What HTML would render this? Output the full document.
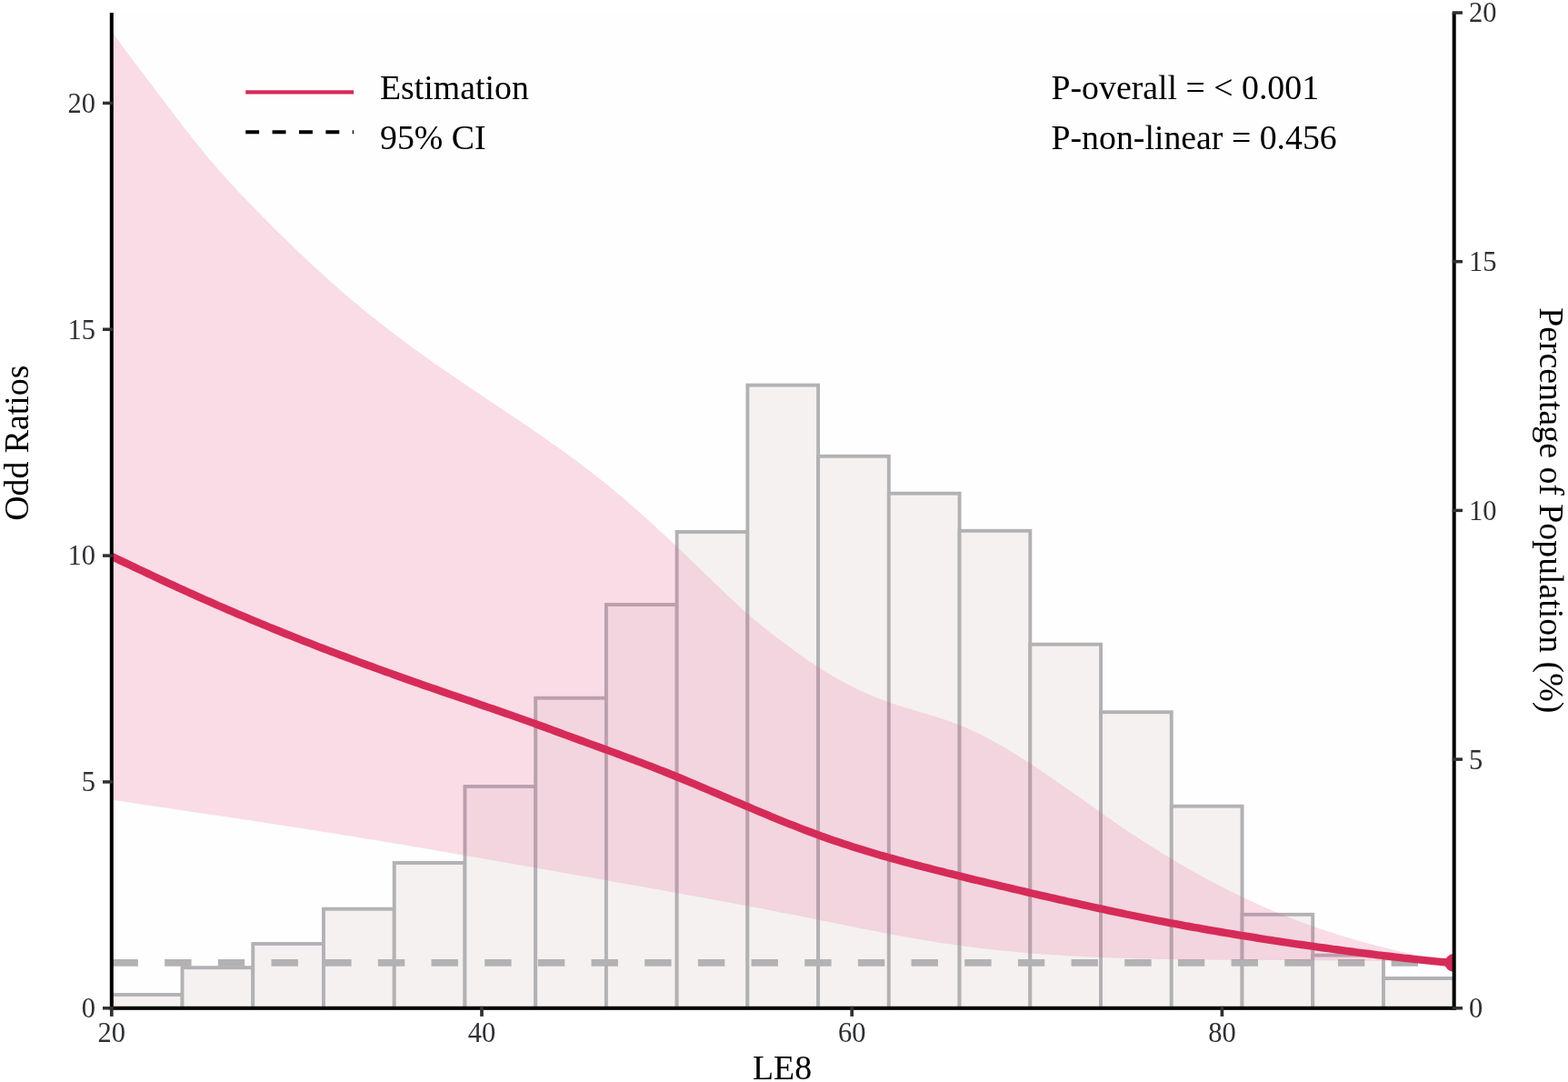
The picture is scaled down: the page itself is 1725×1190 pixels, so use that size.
<!DOCTYPE html>
<html><head><meta charset="utf-8"><title>LE8 RCS plot</title>
<style>html,body{margin:0;padding:0;background:#fff;} svg{display:block;}</style>
</head><body>
<svg width="1725" height="1190" viewBox="0 0 1725 1190">
<defs><clipPath id="pc"><rect x="122.8" y="14.0" width="1476.9" height="1094.8"/></clipPath>
<clipPath id="cbar"><path d="M120.85,1110.75 L120.85,1092.05 L198.58,1092.05 L198.58,1062.25 L276.31,1062.25 L276.31,1036.05 L354.04,1036.05 L354.04,997.75 L431.78,997.75 L431.78,947.05 L509.51,947.05 L509.51,863.05 L587.24,863.05 L587.24,765.75 L664.97,765.75 L664.97,663.05 L742.70,663.05 L742.70,583.05 L820.43,583.05 L820.43,421.65 L902.07,421.65 L902.07,499.85 L979.80,499.85 L979.80,540.75 L1057.53,540.75 L1057.53,581.85 L1135.26,581.85 L1135.26,706.75 L1212.99,706.75 L1212.99,781.25 L1290.72,781.25 L1290.72,884.75 L1368.46,884.75 L1368.46,1003.85 L1446.19,1003.85 L1446.19,1048.65 L1523.92,1048.65 L1523.92,1074.05 L1601.65,1074.05 L1601.65,1110.75 Z"/></clipPath>
<clipPath id="cbg"><path clip-rule="evenodd" d="M117.8,9.0 L1604.7,9.0 L1604.7,1113.8 L117.8,1113.8 Z M120.85,1110.75 L120.85,1092.05 L198.58,1092.05 L198.58,1062.25 L276.31,1062.25 L276.31,1036.05 L354.04,1036.05 L354.04,997.75 L431.78,997.75 L431.78,947.05 L509.51,947.05 L509.51,863.05 L587.24,863.05 L587.24,765.75 L664.97,765.75 L664.97,663.05 L742.70,663.05 L742.70,583.05 L820.43,583.05 L820.43,421.65 L902.07,421.65 L902.07,499.85 L979.80,499.85 L979.80,540.75 L1057.53,540.75 L1057.53,581.85 L1135.26,581.85 L1135.26,706.75 L1212.99,706.75 L1212.99,781.25 L1290.72,781.25 L1290.72,884.75 L1368.46,884.75 L1368.46,1003.85 L1446.19,1003.85 L1446.19,1048.65 L1523.92,1048.65 L1523.92,1074.05 L1601.65,1074.05 L1601.65,1110.75 Z"/></clipPath></defs>
<rect x="0" y="0" width="1725" height="1190" fill="#ffffff"/>
<rect x="122.8" y="14.0" width="1476.9" height="1094.8" fill="#fefefe"/>
<g clip-path="url(#pc)">
<g fill="#f5f1f0" stroke="#b2b2b5" stroke-width="3.9">
<rect x="122.80" y="1094.00" width="77.73" height="14.80"/>
<rect x="200.53" y="1064.20" width="77.73" height="44.60"/>
<rect x="278.26" y="1038.00" width="77.73" height="70.80"/>
<rect x="355.99" y="999.70" width="77.73" height="109.10"/>
<rect x="433.73" y="949.00" width="77.73" height="159.80"/>
<rect x="511.46" y="865.00" width="77.73" height="243.80"/>
<rect x="589.19" y="767.70" width="77.73" height="341.10"/>
<rect x="666.92" y="665.00" width="77.73" height="443.80"/>
<rect x="744.65" y="585.00" width="77.73" height="523.80"/>
<rect x="822.38" y="423.60" width="77.73" height="685.20"/>
<rect x="900.12" y="501.80" width="77.73" height="607.00"/>
<rect x="977.85" y="542.70" width="77.73" height="566.10"/>
<rect x="1055.58" y="583.80" width="77.73" height="525.00"/>
<rect x="1133.31" y="708.70" width="77.73" height="400.10"/>
<rect x="1211.04" y="783.20" width="77.73" height="325.60"/>
<rect x="1288.77" y="886.70" width="77.73" height="222.10"/>
<rect x="1366.51" y="1005.80" width="77.73" height="103.00"/>
<rect x="1444.24" y="1050.60" width="77.73" height="58.20"/>
<rect x="1521.97" y="1076.00" width="77.73" height="32.80"/>
</g>
<line x1="122.5" y1="1058.9" x2="1599.7" y2="1058.9" stroke="#b2b2b4" stroke-width="7.8" stroke-dasharray="29.4 29.27"/>
<path d="M122.8,34.6 L127.7,41.3 L132.7,48.0 L137.6,54.7 L142.6,61.3 L147.5,67.9 L152.4,74.5 L157.4,81.0 L162.3,87.5 L167.3,94.0 L172.2,100.5 L177.1,107.1 L182.1,113.6 L187.0,120.1 L192.0,126.6 L196.9,133.0 L201.8,139.5 L206.8,145.8 L211.7,152.1 L216.6,158.3 L221.6,164.4 L226.5,170.5 L231.5,176.4 L236.4,182.1 L241.3,187.8 L246.3,193.3 L251.2,198.8 L256.2,204.1 L261.1,209.4 L266.0,214.7 L271.0,219.8 L275.9,224.9 L280.9,230.0 L285.8,235.0 L290.7,240.1 L295.7,245.0 L300.6,250.0 L305.6,254.9 L310.5,259.8 L315.4,264.6 L320.4,269.4 L325.3,274.2 L330.3,278.9 L335.2,283.6 L340.1,288.2 L345.1,292.8 L350.0,297.3 L355.0,301.8 L359.9,306.3 L364.8,310.7 L369.8,315.1 L374.7,319.4 L379.7,323.6 L384.6,327.9 L389.5,332.0 L394.5,336.1 L399.4,340.2 L404.3,344.2 L409.3,348.2 L414.2,352.1 L419.2,356.0 L424.1,359.9 L429.0,363.7 L434.0,367.5 L438.9,371.2 L443.9,374.9 L448.8,378.6 L453.7,382.2 L458.7,385.8 L463.6,389.3 L468.6,392.9 L473.5,396.4 L478.4,399.9 L483.4,403.3 L488.3,406.8 L493.3,410.2 L498.2,413.5 L503.1,416.9 L508.1,420.3 L513.0,423.6 L518.0,426.9 L522.9,430.2 L527.8,433.6 L532.8,436.9 L537.7,440.2 L542.7,443.5 L547.6,446.8 L552.5,450.1 L557.5,453.4 L562.4,456.7 L567.4,460.0 L572.3,463.3 L577.2,466.7 L582.2,470.1 L587.1,473.4 L592.0,476.8 L597.0,480.3 L601.9,483.7 L606.9,487.2 L611.8,490.7 L616.7,494.2 L621.7,497.8 L626.6,501.4 L631.6,505.0 L636.5,508.7 L641.4,512.4 L646.4,516.2 L651.3,520.0 L656.3,523.9 L661.2,527.8 L666.1,531.7 L671.1,535.7 L676.0,539.8 L681.0,543.9 L685.9,548.1 L690.8,552.3 L695.8,556.6 L700.7,561.0 L705.7,565.4 L710.6,569.8 L715.5,574.3 L720.5,578.8 L725.4,583.4 L730.4,587.9 L735.3,592.6 L740.2,597.2 L745.2,601.9 L750.1,606.6 L755.1,611.3 L760.0,616.0 L764.9,620.8 L769.9,625.5 L774.8,630.3 L779.7,635.1 L784.7,639.8 L789.6,644.6 L794.6,649.3 L799.5,654.1 L804.4,658.7 L809.4,663.3 L814.3,667.9 L819.3,672.3 L824.2,676.6 L829.1,680.9 L834.1,685.0 L839.0,689.0 L844.0,692.9 L848.9,696.7 L853.8,700.5 L858.8,704.3 L863.7,708.0 L868.7,711.7 L873.6,715.3 L878.5,718.9 L883.5,722.4 L888.4,725.9 L893.4,729.3 L898.3,732.5 L903.2,735.7 L908.2,738.8 L913.1,741.8 L918.1,744.7 L923.0,747.5 L927.9,750.1 L932.9,752.8 L937.8,755.3 L942.8,757.7 L947.7,760.0 L952.6,762.2 L957.6,764.4 L962.5,766.5 L967.4,768.4 L972.4,770.3 L977.3,772.1 L982.3,773.9 L987.2,775.5 L992.1,777.1 L997.1,778.6 L1002.0,780.1 L1007.0,781.6 L1011.9,783.1 L1016.8,784.5 L1021.8,786.0 L1026.7,787.5 L1031.7,789.0 L1036.6,790.6 L1041.5,792.3 L1046.5,794.0 L1051.4,795.9 L1056.4,797.8 L1061.3,799.8 L1066.2,802.0 L1071.2,804.2 L1076.1,806.6 L1081.1,809.0 L1086.0,811.6 L1090.9,814.2 L1095.9,816.9 L1100.8,819.7 L1105.8,822.6 L1110.7,825.5 L1115.6,828.5 L1120.6,831.6 L1125.5,834.7 L1130.5,837.9 L1135.4,841.1 L1140.3,844.3 L1145.3,847.7 L1150.2,851.0 L1155.1,854.4 L1160.1,857.8 L1165.0,861.2 L1170.0,864.7 L1174.9,868.2 L1179.8,871.6 L1184.8,875.1 L1189.7,878.6 L1194.7,882.1 L1199.6,885.6 L1204.5,889.1 L1209.5,892.6 L1214.4,896.1 L1219.4,899.5 L1224.3,902.9 L1229.2,906.3 L1234.2,909.7 L1239.1,913.0 L1244.1,916.3 L1249.0,919.5 L1253.9,922.8 L1258.9,926.0 L1263.8,929.1 L1268.8,932.2 L1273.7,935.3 L1278.6,938.4 L1283.6,941.4 L1288.5,944.4 L1293.5,947.3 L1298.4,950.2 L1303.3,953.1 L1308.3,955.9 L1313.2,958.7 L1318.2,961.5 L1323.1,964.2 L1328.0,966.9 L1333.0,969.5 L1337.9,972.1 L1342.8,974.7 L1347.8,977.2 L1352.7,979.7 L1357.7,982.1 L1362.6,984.6 L1367.5,986.9 L1372.5,989.3 L1377.4,991.6 L1382.4,993.8 L1387.3,996.0 L1392.2,998.2 L1397.2,1000.3 L1402.1,1002.4 L1407.1,1004.5 L1412.0,1006.5 L1416.9,1008.5 L1421.9,1010.4 L1426.8,1012.3 L1431.8,1014.2 L1436.7,1016.0 L1441.6,1017.8 L1446.6,1019.5 L1451.5,1021.2 L1456.5,1022.9 L1461.4,1024.5 L1466.3,1026.1 L1471.3,1027.7 L1476.2,1029.2 L1481.2,1030.7 L1486.1,1032.1 L1491.0,1033.6 L1496.0,1035.0 L1500.9,1036.4 L1505.9,1037.7 L1510.8,1039.0 L1515.7,1040.3 L1520.7,1041.6 L1525.6,1042.8 L1530.5,1044.0 L1535.5,1045.2 L1540.4,1046.4 L1545.4,1047.5 L1550.3,1048.6 L1555.2,1049.7 L1560.2,1050.8 L1565.1,1051.9 L1570.1,1052.9 L1575.0,1053.9 L1579.9,1054.9 L1584.9,1055.9 L1589.8,1056.9 L1594.8,1057.9 L1599.7,1058.8 L1599.7,1059.5 L1594.8,1059.2 L1589.8,1059.0 L1584.9,1058.8 L1579.9,1058.7 L1575.0,1058.5 L1570.1,1058.3 L1565.1,1058.2 L1560.2,1058.0 L1555.2,1057.9 L1550.3,1057.7 L1545.4,1057.6 L1540.4,1057.5 L1535.5,1057.4 L1530.5,1057.3 L1525.6,1057.2 L1520.7,1057.1 L1515.7,1057.0 L1510.8,1056.9 L1505.9,1056.8 L1500.9,1056.8 L1496.0,1056.7 L1491.0,1056.6 L1486.1,1056.6 L1481.2,1056.5 L1476.2,1056.5 L1471.3,1056.4 L1466.3,1056.4 L1461.4,1056.3 L1456.5,1056.3 L1451.5,1056.3 L1446.6,1056.3 L1441.6,1056.2 L1436.7,1056.2 L1431.8,1056.2 L1426.8,1056.1 L1421.9,1056.1 L1416.9,1056.1 L1412.0,1056.1 L1407.1,1056.1 L1402.1,1056.0 L1397.2,1056.0 L1392.2,1056.0 L1387.3,1056.0 L1382.4,1056.0 L1377.4,1056.0 L1372.5,1055.9 L1367.5,1055.9 L1362.6,1055.9 L1357.7,1055.9 L1352.7,1055.8 L1347.8,1055.8 L1342.8,1055.8 L1337.9,1055.7 L1333.0,1055.7 L1328.0,1055.6 L1323.1,1055.6 L1318.2,1055.5 L1313.2,1055.5 L1308.3,1055.4 L1303.3,1055.4 L1298.4,1055.3 L1293.5,1055.2 L1288.5,1055.1 L1283.6,1055.0 L1278.6,1055.0 L1273.7,1054.9 L1268.8,1054.7 L1263.8,1054.6 L1258.9,1054.5 L1253.9,1054.4 L1249.0,1054.3 L1244.1,1054.1 L1239.1,1054.0 L1234.2,1053.8 L1229.2,1053.7 L1224.3,1053.5 L1219.4,1053.3 L1214.4,1053.1 L1209.5,1052.9 L1204.5,1052.7 L1199.6,1052.5 L1194.7,1052.2 L1189.7,1052.0 L1184.8,1051.7 L1179.8,1051.5 L1174.9,1051.2 L1170.0,1050.9 L1165.0,1050.6 L1160.1,1050.3 L1155.1,1050.0 L1150.2,1049.6 L1145.3,1049.2 L1140.3,1048.9 L1135.4,1048.5 L1130.5,1048.1 L1125.5,1047.7 L1120.6,1047.2 L1115.6,1046.8 L1110.7,1046.3 L1105.8,1045.8 L1100.8,1045.3 L1095.9,1044.8 L1090.9,1044.3 L1086.0,1043.7 L1081.1,1043.2 L1076.1,1042.6 L1071.2,1042.0 L1066.2,1041.3 L1061.3,1040.7 L1056.4,1040.0 L1051.4,1039.3 L1046.5,1038.6 L1041.5,1037.9 L1036.6,1037.2 L1031.7,1036.4 L1026.7,1035.6 L1021.8,1034.8 L1016.8,1034.0 L1011.9,1033.2 L1007.0,1032.3 L1002.0,1031.4 L997.1,1030.6 L992.1,1029.7 L987.2,1028.8 L982.3,1027.9 L977.3,1026.9 L972.4,1026.0 L967.4,1025.1 L962.5,1024.1 L957.6,1023.2 L952.6,1022.2 L947.7,1021.2 L942.8,1020.2 L937.8,1019.3 L932.9,1018.3 L927.9,1017.3 L923.0,1016.3 L918.1,1015.3 L913.1,1014.3 L908.2,1013.3 L903.2,1012.3 L898.3,1011.3 L893.4,1010.3 L888.4,1009.3 L883.5,1008.3 L878.5,1007.3 L873.6,1006.3 L868.7,1005.3 L863.7,1004.4 L858.8,1003.4 L853.8,1002.4 L848.9,1001.5 L844.0,1000.5 L839.0,999.6 L834.1,998.6 L829.1,997.7 L824.2,996.7 L819.3,995.8 L814.3,994.9 L809.4,993.9 L804.4,993.0 L799.5,992.1 L794.6,991.2 L789.6,990.3 L784.7,989.4 L779.7,988.5 L774.8,987.6 L769.9,986.7 L764.9,985.8 L760.0,984.9 L755.1,984.0 L750.1,983.1 L745.2,982.2 L740.2,981.3 L735.3,980.4 L730.4,979.5 L725.4,978.6 L720.5,977.8 L715.5,976.9 L710.6,976.0 L705.7,975.1 L700.7,974.2 L695.8,973.4 L690.8,972.5 L685.9,971.6 L681.0,970.7 L676.0,969.9 L671.1,969.0 L666.1,968.1 L661.2,967.2 L656.3,966.3 L651.3,965.5 L646.4,964.6 L641.4,963.7 L636.5,962.8 L631.6,962.0 L626.6,961.1 L621.7,960.2 L616.7,959.3 L611.8,958.4 L606.9,957.6 L601.9,956.7 L597.0,955.8 L592.0,954.9 L587.1,954.1 L582.2,953.2 L577.2,952.3 L572.3,951.5 L567.4,950.6 L562.4,949.7 L557.5,948.8 L552.5,948.0 L547.6,947.1 L542.7,946.2 L537.7,945.4 L532.8,944.5 L527.8,943.6 L522.9,942.8 L518.0,941.9 L513.0,941.1 L508.1,940.2 L503.1,939.4 L498.2,938.5 L493.3,937.7 L488.3,936.8 L483.4,936.0 L478.4,935.1 L473.5,934.3 L468.6,933.4 L463.6,932.6 L458.7,931.8 L453.7,930.9 L448.8,930.1 L443.9,929.3 L438.9,928.4 L434.0,927.6 L429.0,926.8 L424.1,926.0 L419.2,925.1 L414.2,924.3 L409.3,923.5 L404.3,922.7 L399.4,921.9 L394.5,921.1 L389.5,920.3 L384.6,919.5 L379.7,918.7 L374.7,917.9 L369.8,917.1 L364.8,916.3 L359.9,915.5 L355.0,914.7 L350.0,913.9 L345.1,913.1 L340.1,912.4 L335.2,911.6 L330.3,910.8 L325.3,910.0 L320.4,909.3 L315.4,908.5 L310.5,907.7 L305.6,907.0 L300.6,906.2 L295.7,905.5 L290.7,904.7 L285.8,904.0 L280.9,903.2 L275.9,902.5 L271.0,901.7 L266.0,901.0 L261.1,900.2 L256.2,899.5 L251.2,898.8 L246.3,898.0 L241.3,897.3 L236.4,896.6 L231.5,895.9 L226.5,895.1 L221.6,894.4 L216.6,893.7 L211.7,893.0 L206.8,892.2 L201.8,891.5 L196.9,890.8 L192.0,890.0 L187.0,889.3 L182.1,888.6 L177.1,887.8 L172.2,887.1 L167.3,886.4 L162.3,885.6 L157.4,884.9 L152.4,884.1 L147.5,883.4 L142.6,882.6 L137.6,881.8 L132.7,881.1 L127.7,880.3 L122.8,879.5 Z" fill="rgb(224,42,99)" fill-opacity="0.16" stroke="none" clip-path="url(#cbg)"/>
<path d="M122.8,34.6 L127.7,41.3 L132.7,48.0 L137.6,54.7 L142.6,61.3 L147.5,67.9 L152.4,74.5 L157.4,81.0 L162.3,87.5 L167.3,94.0 L172.2,100.5 L177.1,107.1 L182.1,113.6 L187.0,120.1 L192.0,126.6 L196.9,133.0 L201.8,139.5 L206.8,145.8 L211.7,152.1 L216.6,158.3 L221.6,164.4 L226.5,170.5 L231.5,176.4 L236.4,182.1 L241.3,187.8 L246.3,193.3 L251.2,198.8 L256.2,204.1 L261.1,209.4 L266.0,214.7 L271.0,219.8 L275.9,224.9 L280.9,230.0 L285.8,235.0 L290.7,240.1 L295.7,245.0 L300.6,250.0 L305.6,254.9 L310.5,259.8 L315.4,264.6 L320.4,269.4 L325.3,274.2 L330.3,278.9 L335.2,283.6 L340.1,288.2 L345.1,292.8 L350.0,297.3 L355.0,301.8 L359.9,306.3 L364.8,310.7 L369.8,315.1 L374.7,319.4 L379.7,323.6 L384.6,327.9 L389.5,332.0 L394.5,336.1 L399.4,340.2 L404.3,344.2 L409.3,348.2 L414.2,352.1 L419.2,356.0 L424.1,359.9 L429.0,363.7 L434.0,367.5 L438.9,371.2 L443.9,374.9 L448.8,378.6 L453.7,382.2 L458.7,385.8 L463.6,389.3 L468.6,392.9 L473.5,396.4 L478.4,399.9 L483.4,403.3 L488.3,406.8 L493.3,410.2 L498.2,413.5 L503.1,416.9 L508.1,420.3 L513.0,423.6 L518.0,426.9 L522.9,430.2 L527.8,433.6 L532.8,436.9 L537.7,440.2 L542.7,443.5 L547.6,446.8 L552.5,450.1 L557.5,453.4 L562.4,456.7 L567.4,460.0 L572.3,463.3 L577.2,466.7 L582.2,470.1 L587.1,473.4 L592.0,476.8 L597.0,480.3 L601.9,483.7 L606.9,487.2 L611.8,490.7 L616.7,494.2 L621.7,497.8 L626.6,501.4 L631.6,505.0 L636.5,508.7 L641.4,512.4 L646.4,516.2 L651.3,520.0 L656.3,523.9 L661.2,527.8 L666.1,531.7 L671.1,535.7 L676.0,539.8 L681.0,543.9 L685.9,548.1 L690.8,552.3 L695.8,556.6 L700.7,561.0 L705.7,565.4 L710.6,569.8 L715.5,574.3 L720.5,578.8 L725.4,583.4 L730.4,587.9 L735.3,592.6 L740.2,597.2 L745.2,601.9 L750.1,606.6 L755.1,611.3 L760.0,616.0 L764.9,620.8 L769.9,625.5 L774.8,630.3 L779.7,635.1 L784.7,639.8 L789.6,644.6 L794.6,649.3 L799.5,654.1 L804.4,658.7 L809.4,663.3 L814.3,667.9 L819.3,672.3 L824.2,676.6 L829.1,680.9 L834.1,685.0 L839.0,689.0 L844.0,692.9 L848.9,696.7 L853.8,700.5 L858.8,704.3 L863.7,708.0 L868.7,711.7 L873.6,715.3 L878.5,718.9 L883.5,722.4 L888.4,725.9 L893.4,729.3 L898.3,732.5 L903.2,735.7 L908.2,738.8 L913.1,741.8 L918.1,744.7 L923.0,747.5 L927.9,750.1 L932.9,752.8 L937.8,755.3 L942.8,757.7 L947.7,760.0 L952.6,762.2 L957.6,764.4 L962.5,766.5 L967.4,768.4 L972.4,770.3 L977.3,772.1 L982.3,773.9 L987.2,775.5 L992.1,777.1 L997.1,778.6 L1002.0,780.1 L1007.0,781.6 L1011.9,783.1 L1016.8,784.5 L1021.8,786.0 L1026.7,787.5 L1031.7,789.0 L1036.6,790.6 L1041.5,792.3 L1046.5,794.0 L1051.4,795.9 L1056.4,797.8 L1061.3,799.8 L1066.2,802.0 L1071.2,804.2 L1076.1,806.6 L1081.1,809.0 L1086.0,811.6 L1090.9,814.2 L1095.9,816.9 L1100.8,819.7 L1105.8,822.6 L1110.7,825.5 L1115.6,828.5 L1120.6,831.6 L1125.5,834.7 L1130.5,837.9 L1135.4,841.1 L1140.3,844.3 L1145.3,847.7 L1150.2,851.0 L1155.1,854.4 L1160.1,857.8 L1165.0,861.2 L1170.0,864.7 L1174.9,868.2 L1179.8,871.6 L1184.8,875.1 L1189.7,878.6 L1194.7,882.1 L1199.6,885.6 L1204.5,889.1 L1209.5,892.6 L1214.4,896.1 L1219.4,899.5 L1224.3,902.9 L1229.2,906.3 L1234.2,909.7 L1239.1,913.0 L1244.1,916.3 L1249.0,919.5 L1253.9,922.8 L1258.9,926.0 L1263.8,929.1 L1268.8,932.2 L1273.7,935.3 L1278.6,938.4 L1283.6,941.4 L1288.5,944.4 L1293.5,947.3 L1298.4,950.2 L1303.3,953.1 L1308.3,955.9 L1313.2,958.7 L1318.2,961.5 L1323.1,964.2 L1328.0,966.9 L1333.0,969.5 L1337.9,972.1 L1342.8,974.7 L1347.8,977.2 L1352.7,979.7 L1357.7,982.1 L1362.6,984.6 L1367.5,986.9 L1372.5,989.3 L1377.4,991.6 L1382.4,993.8 L1387.3,996.0 L1392.2,998.2 L1397.2,1000.3 L1402.1,1002.4 L1407.1,1004.5 L1412.0,1006.5 L1416.9,1008.5 L1421.9,1010.4 L1426.8,1012.3 L1431.8,1014.2 L1436.7,1016.0 L1441.6,1017.8 L1446.6,1019.5 L1451.5,1021.2 L1456.5,1022.9 L1461.4,1024.5 L1466.3,1026.1 L1471.3,1027.7 L1476.2,1029.2 L1481.2,1030.7 L1486.1,1032.1 L1491.0,1033.6 L1496.0,1035.0 L1500.9,1036.4 L1505.9,1037.7 L1510.8,1039.0 L1515.7,1040.3 L1520.7,1041.6 L1525.6,1042.8 L1530.5,1044.0 L1535.5,1045.2 L1540.4,1046.4 L1545.4,1047.5 L1550.3,1048.6 L1555.2,1049.7 L1560.2,1050.8 L1565.1,1051.9 L1570.1,1052.9 L1575.0,1053.9 L1579.9,1054.9 L1584.9,1055.9 L1589.8,1056.9 L1594.8,1057.9 L1599.7,1058.8 L1599.7,1059.5 L1594.8,1059.2 L1589.8,1059.0 L1584.9,1058.8 L1579.9,1058.7 L1575.0,1058.5 L1570.1,1058.3 L1565.1,1058.2 L1560.2,1058.0 L1555.2,1057.9 L1550.3,1057.7 L1545.4,1057.6 L1540.4,1057.5 L1535.5,1057.4 L1530.5,1057.3 L1525.6,1057.2 L1520.7,1057.1 L1515.7,1057.0 L1510.8,1056.9 L1505.9,1056.8 L1500.9,1056.8 L1496.0,1056.7 L1491.0,1056.6 L1486.1,1056.6 L1481.2,1056.5 L1476.2,1056.5 L1471.3,1056.4 L1466.3,1056.4 L1461.4,1056.3 L1456.5,1056.3 L1451.5,1056.3 L1446.6,1056.3 L1441.6,1056.2 L1436.7,1056.2 L1431.8,1056.2 L1426.8,1056.1 L1421.9,1056.1 L1416.9,1056.1 L1412.0,1056.1 L1407.1,1056.1 L1402.1,1056.0 L1397.2,1056.0 L1392.2,1056.0 L1387.3,1056.0 L1382.4,1056.0 L1377.4,1056.0 L1372.5,1055.9 L1367.5,1055.9 L1362.6,1055.9 L1357.7,1055.9 L1352.7,1055.8 L1347.8,1055.8 L1342.8,1055.8 L1337.9,1055.7 L1333.0,1055.7 L1328.0,1055.6 L1323.1,1055.6 L1318.2,1055.5 L1313.2,1055.5 L1308.3,1055.4 L1303.3,1055.4 L1298.4,1055.3 L1293.5,1055.2 L1288.5,1055.1 L1283.6,1055.0 L1278.6,1055.0 L1273.7,1054.9 L1268.8,1054.7 L1263.8,1054.6 L1258.9,1054.5 L1253.9,1054.4 L1249.0,1054.3 L1244.1,1054.1 L1239.1,1054.0 L1234.2,1053.8 L1229.2,1053.7 L1224.3,1053.5 L1219.4,1053.3 L1214.4,1053.1 L1209.5,1052.9 L1204.5,1052.7 L1199.6,1052.5 L1194.7,1052.2 L1189.7,1052.0 L1184.8,1051.7 L1179.8,1051.5 L1174.9,1051.2 L1170.0,1050.9 L1165.0,1050.6 L1160.1,1050.3 L1155.1,1050.0 L1150.2,1049.6 L1145.3,1049.2 L1140.3,1048.9 L1135.4,1048.5 L1130.5,1048.1 L1125.5,1047.7 L1120.6,1047.2 L1115.6,1046.8 L1110.7,1046.3 L1105.8,1045.8 L1100.8,1045.3 L1095.9,1044.8 L1090.9,1044.3 L1086.0,1043.7 L1081.1,1043.2 L1076.1,1042.6 L1071.2,1042.0 L1066.2,1041.3 L1061.3,1040.7 L1056.4,1040.0 L1051.4,1039.3 L1046.5,1038.6 L1041.5,1037.9 L1036.6,1037.2 L1031.7,1036.4 L1026.7,1035.6 L1021.8,1034.8 L1016.8,1034.0 L1011.9,1033.2 L1007.0,1032.3 L1002.0,1031.4 L997.1,1030.6 L992.1,1029.7 L987.2,1028.8 L982.3,1027.9 L977.3,1026.9 L972.4,1026.0 L967.4,1025.1 L962.5,1024.1 L957.6,1023.2 L952.6,1022.2 L947.7,1021.2 L942.8,1020.2 L937.8,1019.3 L932.9,1018.3 L927.9,1017.3 L923.0,1016.3 L918.1,1015.3 L913.1,1014.3 L908.2,1013.3 L903.2,1012.3 L898.3,1011.3 L893.4,1010.3 L888.4,1009.3 L883.5,1008.3 L878.5,1007.3 L873.6,1006.3 L868.7,1005.3 L863.7,1004.4 L858.8,1003.4 L853.8,1002.4 L848.9,1001.5 L844.0,1000.5 L839.0,999.6 L834.1,998.6 L829.1,997.7 L824.2,996.7 L819.3,995.8 L814.3,994.9 L809.4,993.9 L804.4,993.0 L799.5,992.1 L794.6,991.2 L789.6,990.3 L784.7,989.4 L779.7,988.5 L774.8,987.6 L769.9,986.7 L764.9,985.8 L760.0,984.9 L755.1,984.0 L750.1,983.1 L745.2,982.2 L740.2,981.3 L735.3,980.4 L730.4,979.5 L725.4,978.6 L720.5,977.8 L715.5,976.9 L710.6,976.0 L705.7,975.1 L700.7,974.2 L695.8,973.4 L690.8,972.5 L685.9,971.6 L681.0,970.7 L676.0,969.9 L671.1,969.0 L666.1,968.1 L661.2,967.2 L656.3,966.3 L651.3,965.5 L646.4,964.6 L641.4,963.7 L636.5,962.8 L631.6,962.0 L626.6,961.1 L621.7,960.2 L616.7,959.3 L611.8,958.4 L606.9,957.6 L601.9,956.7 L597.0,955.8 L592.0,954.9 L587.1,954.1 L582.2,953.2 L577.2,952.3 L572.3,951.5 L567.4,950.6 L562.4,949.7 L557.5,948.8 L552.5,948.0 L547.6,947.1 L542.7,946.2 L537.7,945.4 L532.8,944.5 L527.8,943.6 L522.9,942.8 L518.0,941.9 L513.0,941.1 L508.1,940.2 L503.1,939.4 L498.2,938.5 L493.3,937.7 L488.3,936.8 L483.4,936.0 L478.4,935.1 L473.5,934.3 L468.6,933.4 L463.6,932.6 L458.7,931.8 L453.7,930.9 L448.8,930.1 L443.9,929.3 L438.9,928.4 L434.0,927.6 L429.0,926.8 L424.1,926.0 L419.2,925.1 L414.2,924.3 L409.3,923.5 L404.3,922.7 L399.4,921.9 L394.5,921.1 L389.5,920.3 L384.6,919.5 L379.7,918.7 L374.7,917.9 L369.8,917.1 L364.8,916.3 L359.9,915.5 L355.0,914.7 L350.0,913.9 L345.1,913.1 L340.1,912.4 L335.2,911.6 L330.3,910.8 L325.3,910.0 L320.4,909.3 L315.4,908.5 L310.5,907.7 L305.6,907.0 L300.6,906.2 L295.7,905.5 L290.7,904.7 L285.8,904.0 L280.9,903.2 L275.9,902.5 L271.0,901.7 L266.0,901.0 L261.1,900.2 L256.2,899.5 L251.2,898.8 L246.3,898.0 L241.3,897.3 L236.4,896.6 L231.5,895.9 L226.5,895.1 L221.6,894.4 L216.6,893.7 L211.7,893.0 L206.8,892.2 L201.8,891.5 L196.9,890.8 L192.0,890.0 L187.0,889.3 L182.1,888.6 L177.1,887.8 L172.2,887.1 L167.3,886.4 L162.3,885.6 L157.4,884.9 L152.4,884.1 L147.5,883.4 L142.6,882.6 L137.6,881.8 L132.7,881.1 L127.7,880.3 L122.8,879.5 Z" fill="rgb(232,71,133)" fill-opacity="0.16" stroke="none" clip-path="url(#cbar)"/>
<path d="M122.8,611.8 L127.7,614.2 L132.7,616.6 L137.6,618.9 L142.6,621.3 L147.5,623.6 L152.4,626.0 L157.4,628.3 L162.3,630.6 L167.3,633.0 L172.2,635.3 L177.1,637.6 L182.1,639.9 L187.0,642.2 L192.0,644.4 L196.9,646.7 L201.8,648.9 L206.8,651.2 L211.7,653.4 L216.6,655.6 L221.6,657.8 L226.5,660.0 L231.5,662.2 L236.4,664.4 L241.3,666.5 L246.3,668.7 L251.2,670.8 L256.2,672.9 L261.1,675.1 L266.0,677.1 L271.0,679.2 L275.9,681.3 L280.9,683.4 L285.8,685.4 L290.7,687.4 L295.7,689.5 L300.6,691.5 L305.6,693.5 L310.5,695.5 L315.4,697.5 L320.4,699.4 L325.3,701.4 L330.3,703.4 L335.2,705.3 L340.1,707.2 L345.1,709.2 L350.0,711.1 L355.0,713.0 L359.9,714.9 L364.8,716.7 L369.8,718.6 L374.7,720.5 L379.7,722.3 L384.6,724.2 L389.5,726.0 L394.5,727.9 L399.4,729.7 L404.3,731.5 L409.3,733.3 L414.2,735.1 L419.2,736.9 L424.1,738.7 L429.0,740.4 L434.0,742.2 L438.9,744.0 L443.9,745.7 L448.8,747.5 L453.7,749.2 L458.7,750.9 L463.6,752.7 L468.6,754.4 L473.5,756.1 L478.4,757.8 L483.4,759.5 L488.3,761.2 L493.3,762.9 L498.2,764.6 L503.1,766.3 L508.1,767.9 L513.0,769.6 L518.0,771.3 L522.9,773.0 L527.8,774.7 L532.8,776.4 L537.7,778.1 L542.7,779.8 L547.6,781.5 L552.5,783.2 L557.5,784.9 L562.4,786.6 L567.4,788.4 L572.3,790.1 L577.2,791.9 L582.2,793.6 L587.1,795.4 L592.0,797.2 L597.0,799.0 L601.9,800.8 L606.9,802.6 L611.8,804.5 L616.7,806.3 L621.7,808.1 L626.6,809.9 L631.6,811.7 L636.5,813.5 L641.4,815.3 L646.4,817.1 L651.3,818.9 L656.3,820.7 L661.2,822.5 L666.1,824.3 L671.1,826.1 L676.0,827.9 L681.0,829.7 L685.9,831.6 L690.8,833.4 L695.8,835.2 L700.7,837.1 L705.7,838.9 L710.6,840.8 L715.5,842.7 L720.5,844.6 L725.4,846.6 L730.4,848.5 L735.3,850.5 L740.2,852.5 L745.2,854.5 L750.1,856.5 L755.1,858.6 L760.0,860.6 L764.9,862.7 L769.9,864.8 L774.8,866.9 L779.7,869.0 L784.7,871.1 L789.6,873.2 L794.6,875.3 L799.5,877.4 L804.4,879.5 L809.4,881.6 L814.3,883.7 L819.3,885.8 L824.2,887.9 L829.1,890.0 L834.1,892.1 L839.0,894.2 L844.0,896.2 L848.9,898.3 L853.8,900.3 L858.8,902.3 L863.7,904.3 L868.7,906.3 L873.6,908.2 L878.5,910.2 L883.5,912.1 L888.4,914.0 L893.4,915.8 L898.3,917.7 L903.2,919.5 L908.2,921.2 L913.1,923.0 L918.1,924.7 L923.0,926.3 L927.9,928.0 L932.9,929.6 L937.8,931.2 L942.8,932.7 L947.7,934.3 L952.6,935.8 L957.6,937.3 L962.5,938.7 L967.4,940.2 L972.4,941.6 L977.3,943.0 L982.3,944.4 L987.2,945.8 L992.1,947.1 L997.1,948.5 L1002.0,949.8 L1007.0,951.1 L1011.9,952.4 L1016.8,953.7 L1021.8,954.9 L1026.7,956.2 L1031.7,957.5 L1036.6,958.7 L1041.5,960.0 L1046.5,961.2 L1051.4,962.4 L1056.4,963.6 L1061.3,964.8 L1066.2,966.1 L1071.2,967.3 L1076.1,968.5 L1081.1,969.7 L1086.0,970.8 L1090.9,972.0 L1095.9,973.2 L1100.8,974.4 L1105.8,975.5 L1110.7,976.7 L1115.6,977.9 L1120.6,979.0 L1125.5,980.2 L1130.5,981.3 L1135.4,982.5 L1140.3,983.6 L1145.3,984.8 L1150.2,985.9 L1155.1,987.0 L1160.1,988.2 L1165.0,989.3 L1170.0,990.4 L1174.9,991.5 L1179.8,992.6 L1184.8,993.7 L1189.7,994.8 L1194.7,995.9 L1199.6,997.0 L1204.5,998.1 L1209.5,999.2 L1214.4,1000.2 L1219.4,1001.3 L1224.3,1002.4 L1229.2,1003.4 L1234.2,1004.4 L1239.1,1005.5 L1244.1,1006.5 L1249.0,1007.5 L1253.9,1008.5 L1258.9,1009.5 L1263.8,1010.5 L1268.8,1011.5 L1273.7,1012.5 L1278.6,1013.4 L1283.6,1014.4 L1288.5,1015.3 L1293.5,1016.2 L1298.4,1017.1 L1303.3,1018.1 L1308.3,1019.0 L1313.2,1019.9 L1318.2,1020.7 L1323.1,1021.6 L1328.0,1022.5 L1333.0,1023.3 L1337.9,1024.2 L1342.8,1025.0 L1347.8,1025.9 L1352.7,1026.7 L1357.7,1027.5 L1362.6,1028.3 L1367.5,1029.1 L1372.5,1029.9 L1377.4,1030.7 L1382.4,1031.5 L1387.3,1032.3 L1392.2,1033.1 L1397.2,1033.8 L1402.1,1034.6 L1407.1,1035.3 L1412.0,1036.1 L1416.9,1036.8 L1421.9,1037.6 L1426.8,1038.3 L1431.8,1039.0 L1436.7,1039.7 L1441.6,1040.4 L1446.6,1041.1 L1451.5,1041.8 L1456.5,1042.5 L1461.4,1043.2 L1466.3,1043.9 L1471.3,1044.5 L1476.2,1045.2 L1481.2,1045.9 L1486.1,1046.5 L1491.0,1047.2 L1496.0,1047.8 L1500.9,1048.4 L1505.9,1049.0 L1510.8,1049.7 L1515.7,1050.3 L1520.7,1050.9 L1525.6,1051.5 L1530.5,1052.0 L1535.5,1052.6 L1540.4,1053.2 L1545.4,1053.8 L1550.3,1054.3 L1555.2,1054.9 L1560.2,1055.4 L1565.1,1055.9 L1570.1,1056.4 L1575.0,1056.9 L1579.9,1057.4 L1584.9,1057.9 L1589.8,1058.3 L1594.8,1058.7 L1599.7,1059.2" fill="none" stroke="#d62b58" stroke-width="8.4"/>
<circle cx="1599.5" cy="1059" r="10" fill="#d62b58"/>
</g>
<g fill="#000">
<rect x="120.8" y="14" width="4" height="1096.8"/>
<rect x="1597.7" y="14" width="4" height="1096.8"/>
<rect x="120.8" y="1106.8" width="1480.9" height="4"/>
</g>
<g fill="#2e3034">
<rect x="113" y="1107.05" width="11.8" height="3.5"/>
<rect x="113" y="858.20" width="11.8" height="3.5"/>
<rect x="113" y="609.35" width="11.8" height="3.5"/>
<rect x="113" y="360.50" width="11.8" height="3.5"/>
<rect x="113" y="111.65" width="11.8" height="3.5"/>
<rect x="1597.7" y="1107.05" width="11.3" height="3.5"/>
<rect x="1597.7" y="833.35" width="11.3" height="3.5"/>
<rect x="1597.7" y="559.65" width="11.3" height="3.5"/>
<rect x="1597.7" y="285.95" width="11.3" height="3.5"/>
<rect x="1597.7" y="12.25" width="11.3" height="3.5"/>
<rect x="120.95" y="1106.8" width="3.7" height="11.1"/>
<rect x="528.15" y="1106.8" width="3.7" height="11.1"/>
<rect x="935.35" y="1106.8" width="3.7" height="11.1"/>
<rect x="1342.55" y="1106.8" width="3.7" height="11.1"/>
</g>
<g font-family="Liberation Serif, Times New Roman, serif" font-size="30.5" fill="#2e3034">
<text x="105" y="1108.80" text-anchor="end" dominant-baseline="central" dy="0.3">0</text>
<text x="105" y="859.95" text-anchor="end" dominant-baseline="central" dy="0.3">5</text>
<text x="105" y="611.10" text-anchor="end" dominant-baseline="central" dy="0.3">10</text>
<text x="105" y="362.25" text-anchor="end" dominant-baseline="central" dy="0.3">15</text>
<text x="105" y="113.40" text-anchor="end" dominant-baseline="central" dy="0.3">20</text>
<text x="1616" y="1108.80" text-anchor="start" dominant-baseline="central" dy="0.4">0</text>
<text x="1616" y="835.10" text-anchor="start" dominant-baseline="central" dy="0.4">5</text>
<text x="1616" y="561.40" text-anchor="start" dominant-baseline="central" dy="0.4">10</text>
<text x="1616" y="287.70" text-anchor="start" dominant-baseline="central" dy="0.4">15</text>
<text x="1616" y="14.00" text-anchor="start" dominant-baseline="central" dy="0.4">20</text>
<text x="122.80" y="1146.3" text-anchor="middle">20</text>
<text x="530.00" y="1146.3" text-anchor="middle">40</text>
<text x="937.20" y="1146.3" text-anchor="middle">60</text>
<text x="1344.40" y="1146.3" text-anchor="middle">80</text>
</g>
<g font-family="Liberation Serif, Times New Roman, serif" font-size="37.8" fill="#000">
<text x="860.5" y="1187" text-anchor="middle">LE8</text>
<text transform="translate(31,487.2) rotate(-90)" text-anchor="middle">Odd Ratios</text>
<text transform="translate(1693.5,561.2) rotate(90)" text-anchor="middle">Percentage of Population (%)</text>
<text x="418" y="109.4">Estimation</text>
<text x="418" y="164.2">95% CI</text>
<text x="1156.5" y="109.4">P-overall = &lt; 0.001</text>
<text x="1156.5" y="164.2">P-non-linear = 0.456</text>
</g>
<line x1="270.2" y1="101.3" x2="389.1" y2="101.3" stroke="#d62b58" stroke-width="4.2"/>
<line x1="270.2" y1="145.3" x2="389.1" y2="145.3" stroke="#000" stroke-width="4" stroke-dasharray="14.9 14.5"/>
</svg>
</body></html>
